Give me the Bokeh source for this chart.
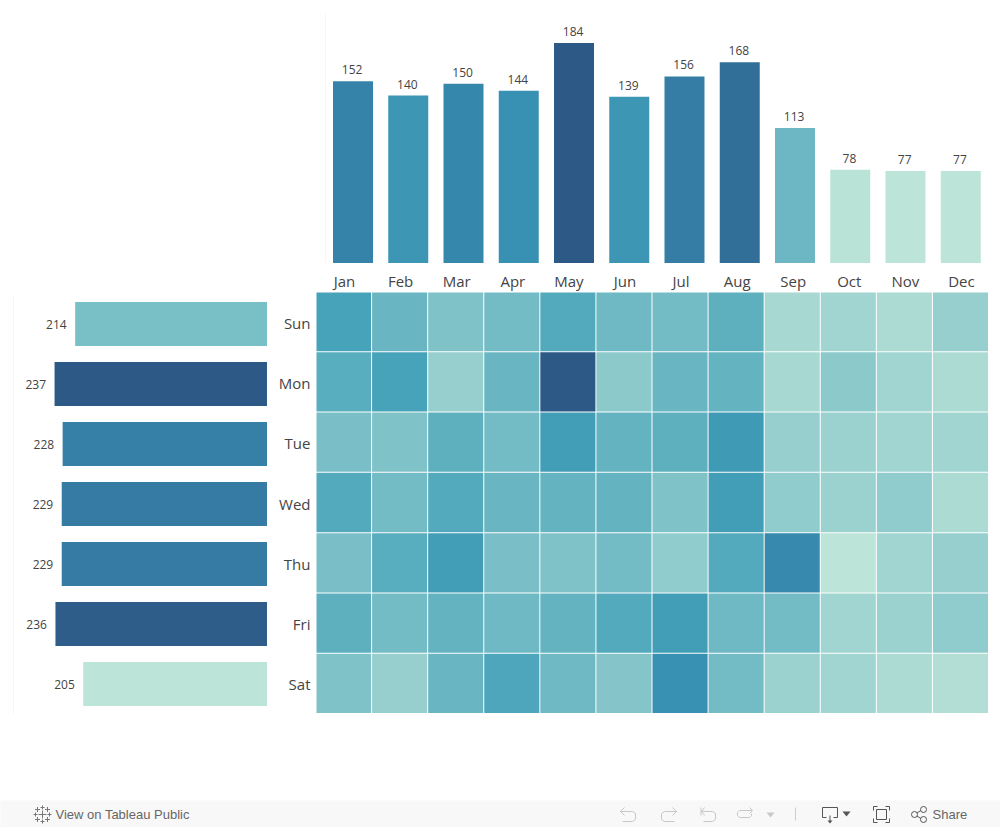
from bokeh.plotting import figure
from bokeh.layouts import column, row
from bokeh.models import Range1d, FactorRange, LinearColorMapper, Span, Spacer, ColumnDataSource, CategoricalAxis
from bokeh.core.properties import value
from bokeh.transform import dodge
from bokeh.embed import file_html
from bokeh.resources import INLINE

months = ["Jan", "Feb", "Mar", "Apr", "May", "Jun", "Jul", "Aug", "Sep", "Oct", "Nov", "Dec"]
days = ["Sun", "Mon", "Tue", "Wed", "Thu", "Fri", "Sat"]
month_totals = [152, 140, 150, 144, 184, 139, 156, 168, 113, 78, 77, 77]
day_totals = [214, 237, 228, 229, 229, 236, 205]

sun = [27, 21, 17, 19, 25, 20, 19, 23, 10, 11, 9, 13]
mon = [24, 27, 13, 21, 49, 15, 21, 22, 10, 15, 11, 9]
tue = [18, 17, 23, 19, 29, 22, 23, 30, 13, 12, 11, 11]
wed = [25, 19, 25, 21, 22, 22, 17, 29, 14, 12, 14, 9]
thu = [18, 24, 29, 18, 17, 19, 14, 25, 35, 6, 11, 13]
fri = [23, 19, 22, 20, 22, 25, 29, 20, 19, 11, 12, 14]
sat = [17, 13, 21, 26, 20, 16, 33, 19, 12, 11, 9, 8]
heat_rows = [sun, mon, tue, wed, thu, fri, sat]

# colour ramp
anchors = [(0.0, "#bce4d8"), (0.5, "#45a2b9"), (0.64, "#378fb1"), (0.72, "#3680a8"), (1.0, "#2c5985")]


def build_palette(n=256):
    out = []
    rgb = [(t, tuple(int(c[i:i + 2], 16) for i in (1, 3, 5))) for t, c in anchors]
    for k in range(n):
        t = k / (n - 1)
        for (t0, c0), (t1, c1) in zip(rgb, rgb[1:]):
            if t <= t1:
                f = (t - t0) / (t1 - t0)
                out.append("#%02x%02x%02x" % tuple(round(a + (b - a) * f) for a, b in zip(c0, c1)))
                break
    return out


palette = build_palette()
FONT = "Open Sans"
TEXT = "#444444"
HAIR = "#eeeeee"


def base(**kw):
    p = figure(output_backend="svg", toolbar_location=None, x_axis_location=None,
               y_axis_location=None, outline_line_color=None, border_fill_color="white",
               background_fill_color="white", min_border=0, **kw)
    p.xgrid.visible = False
    p.ygrid.visible = False
    return p


# ---- month bars
src_m = ColumnDataSource(dict(month=months, total=month_totals, label=[str(v) for v in month_totals]))
cm_m = LinearColorMapper(palette=palette, low=min(month_totals), high=max(month_totals))
top = base(width=663, height=263, x_range=FactorRange(factors=months), y_range=Range1d(-0.42, 208.68),
           min_border_top=13)
top.vbar(x=dodge("month", -0.0023, range=top.x_range), top="total", width=40 / 55.25, source=src_m,
         line_color=None, fill_color=dict(field="total", transform=cm_m))
top.text(x="month", y="total", text="label", source=src_m, text_align="center", text_baseline="bottom",
         y_offset=-7, x_offset=-1, text_font=value(FONT), text_font_size="12px", text_color=TEXT)
top.add_layout(Span(location=0, dimension="height", line_color=HAIR, line_width=1))

# ---- day bars
src_d = ColumnDataSource(dict(day=days, total=day_totals, label=[str(v) for v in day_totals]))
cm_d = LinearColorMapper(palette=palette, low=min(day_totals), high=max(day_totals))
left = base(width=267, height=451, x_range=Range1d(282.8, -0.56), y_range=FactorRange(factors=days[::-1]),
            min_border_left=13, min_border_top=31, min_border_bottom=0)
left.hbar(y=dodge("day", 0.0083, range=left.y_range), left=0, right="total", height=44 / 60, source=src_d,
          line_color=None, fill_color=dict(field="total", transform=cm_d))
left.text(x="total", y="day", text="label", source=src_d, text_align="right", text_baseline="middle",
          x_offset=-8.5, text_font=value(FONT), text_font_size="12px", text_color=TEXT)
left.add_layout(Span(location=282.8, dimension="height", line_color=HAIR, line_width=1))

# ---- heat map
xs, ys, vs = [], [], []
for d, vals in zip(days, heat_rows):
    for m, v in zip(months, vals):
        xs.append(m)
        ys.append(d)
        vs.append(v)
src_h = ColumnDataSource(dict(month=xs, day=ys, v=vs))
cm_h = LinearColorMapper(palette=palette, low=min(vs), high=max(vs))
heat = base(width=722, height=451, x_range=FactorRange(factors=months), y_range=FactorRange(factors=days[::-1]),
            min_border_left=49, min_border_top=29, min_border_bottom=0)
# one-pixel white gap on the right and bottom of every cell
STEP_X, STEP_Y = 673 / 12, 422 / 7
heat.rect(x=dodge("month", -1 / STEP_X, range=heat.x_range), y=dodge("day", 1 / STEP_Y, range=heat.y_range),
          width=(STEP_X - 1) / STEP_X, height=(STEP_Y - 1) / STEP_Y, source=src_h, line_color=None,
          fill_color=dict(field="v", transform=cm_h))
for side in ("above", "left"):
    ax = CategoricalAxis(axis_line_color=None, major_tick_line_color=None, minor_tick_line_color=None,
                         major_tick_in=0, major_tick_out=0, minor_tick_in=0, minor_tick_out=0,
                         major_label_text_font=FONT, major_label_text_font_size="15px",
                         major_label_text_color=TEXT, major_label_standoff=2 if side == "above" else 6)
    heat.add_layout(ax, side)

# ---- footer bar
foot = base(width=1000, height=27, x_range=Range1d(0, 1000), y_range=Range1d(27, 0))
foot.background_fill_color = "#f8f8f8"
foot.border_fill_color = "#f8f8f8"
LIGHT, DARK = "#c8c8c8", "#555555"
foot.text(x=[55], y=[13.5], text=["View on Tableau Public"], text_font=value("Liberation Sans"),
          text_font_size="13px", text_color="#666666", text_baseline="middle")
foot.text(x=[932], y=[13.5], text=["Share"], text_font=value("Liberation Sans"),
          text_font_size="13px", text_color="#666666", text_baseline="middle")
# logo: plus marks
logo_x = [42, 42, 42, 35, 49, 37, 47, 37, 47]
logo_y = [14, 7, 21, 14, 14, 9, 9, 19, 19]
logo_s = [8, 4, 4, 4, 4, 5, 5, 5, 5]
foot.scatter(x=logo_x, y=logo_y, size=logo_s, marker="cross", line_color="#777777", line_width=1)
# undo / redo / revert / refresh
foot.multi_line(xs=[[624, 620, 624], [620, 632, 635, 635, 632, 622],
                    [672, 676, 672], [676, 664, 661, 661, 664, 674],
                    [704, 701, 704], [701, 712, 715, 715, 712, 703], [700.5, 700.5],
                    [749, 752, 749], [752, 739, 737, 737, 739, 749, 751, 751]],
                ys=[[7, 11, 15], [11, 11, 13, 19, 21, 21],
                    [7, 11, 15], [11, 11, 13, 19, 21, 21],
                    [7, 11, 15], [11, 11, 13, 19, 21, 21], [7, 15],
                    [7, 10, 13], [10, 10, 12, 15, 17, 17, 15, 13]],
                line_color=LIGHT, line_width=1)
foot.multi_line(xs=[[795, 795]], ys=[[7, 20]], line_color="#cccccc", line_width=1)
foot.patch(x=[766, 774, 770], y=[12, 12, 17], fill_color=LIGHT, line_color=None)
# download
foot.multi_line(xs=[[826, 822, 822, 837, 837, 833], [829.5, 829.5]], ys=[[17, 17, 7, 7, 17, 17], [15, 21]],
                line_color=DARK, line_width=1)
foot.patch(x=[827, 832, 829.5], y=[20, 20, 23], fill_color=DARK, line_color=None)
foot.patch(x=[842, 850, 846], y=[11, 11, 16], fill_color=DARK, line_color=None)
# fullscreen
foot.multi_line(xs=[[873, 873, 877], [885, 889, 889], [873, 873, 877], [885, 889, 889], [876, 886, 886, 876, 876]],
                ys=[[10, 6, 6], [6, 6, 10], [18, 22, 22], [22, 22, 18], [9, 9, 19, 19, 9]],
                line_color=DARK, line_width=1)
# share
foot.multi_line(xs=[[914, 922], [914, 922]], ys=[[14, 9], [14, 19]], line_color=DARK, line_width=1)
foot.scatter(x=[914, 923, 923], y=[14, 9, 19], size=6, marker="circle", fill_color="#f8f8f8", line_color=DARK)

page = column(
    row(Spacer(width=325, height=263), top, spacing=0),
    row(left, column(heat, spacing=0), spacing=0),
    Spacer(width=1000, height=86),
    foot,
    spacing=0,
    styles={"position": "absolute", "left": "0", "top": "0"},
)

open("out.html", "w").write(file_html(page, INLINE))
